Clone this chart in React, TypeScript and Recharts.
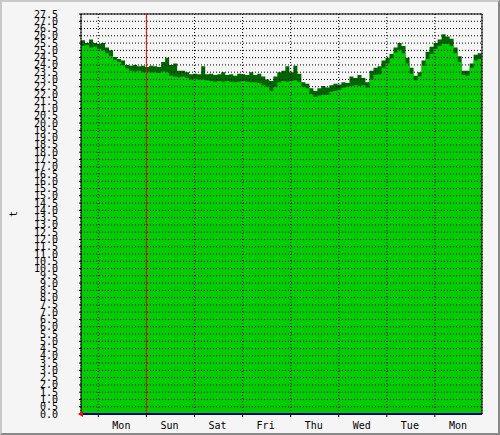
import {
  Area,
  AreaChart,
  CartesianGrid,
  ReferenceDot,
  ReferenceLine,
  XAxis,
  YAxis,
} from "recharts";

// sampled every 2 hours, starting a bit before the first day boundary
const START_DAY = -0.36;
const STEP_DAY = 1 / 12;
const X_DOMAIN: [number, number] = [-0.36, 7.98];

const dayLabels = ["Mon", "Sun", "Sat", "Fri", "Thu", "Wed", "Tue", "Mon"];
const dayBoundaries = [0, 1, 2, 3, 4, 5, 6, 7];
const dayLabelTicks = [0.48, 1.48, 2.48, 3.48, 4.48, 5.48, 6.48, 7.48];
const yTicks = Array.from({ length: 56 }, (_, i) => i * 0.5);

const avgTemp = [
  25.3, 25.35, 25.2, 25.25, 25.1, 25.0, 24.8, 24.6, 24.35, 24.2,
  24.0, 23.75, 23.6, 23.55, 23.6, 23.5, 23.55, 23.5, 23.5, 23.45,
  23.55, 23.5, 23.25, 23.2, 23.15, 23.2, 23.1, 23.0, 23.05, 23.0,
  23.0, 22.95, 22.9, 22.85, 22.9, 22.85, 22.9, 22.85, 22.8, 22.85,
  22.9, 22.85, 22.8, 22.8, 22.75, 22.6, 22.5, 22.2, 22.5, 22.8,
  22.9, 22.85, 22.9, 22.95, 22.8, 22.5, 22.4, 22.0, 21.8, 21.9,
  21.95, 21.95, 22.15, 22.2, 22.3, 22.45, 22.5, 22.55, 22.6, 22.55,
  22.6, 22.45, 23.0, 23.3, 23.35, 23.8, 24.1, 24.45, 24.85, 25.05,
  24.8, 24.1, 23.4, 22.95, 23.2, 23.95, 24.4, 24.75, 25.1, 25.3,
  25.45, 25.45, 25.3, 24.8, 24.2, 23.3, 23.25, 23.8, 24.3, 24.4,
  24.8,
];

const maxTemp = [
  25.7, 25.5, 25.75, 25.5, 25.45, 25.5, 25.2, 25.0, 24.55, 24.4,
  24.3, 24.0, 23.95, 24.0, 23.9, 23.95, 23.85, 23.95, 23.9, 23.85,
  24.2, 24.5, 24.0, 24.1, 23.6, 23.6, 23.5, 23.35, 23.4, 23.35,
  23.9, 23.35, 23.4, 23.3, 23.35, 23.5, 23.3, 23.35, 23.25, 23.4,
  23.35, 23.3, 23.5, 23.3, 23.4, 23.2, 23.0, 22.9, 23.2, 23.5,
  23.6, 23.9, 23.5, 23.95, 23.4, 22.8, 22.7, 22.4, 22.2, 22.4,
  22.55, 22.45, 22.6, 22.7, 22.65, 22.8, 22.75, 23.2, 23.1, 23.3,
  23.1, 22.8, 23.6, 23.8, 23.9, 24.3, 24.5, 24.75, 25.2, 25.5,
  25.3, 24.5, 23.8, 23.25, 23.5, 24.3, 24.9, 25.25, 25.5, 25.75,
  26.1, 25.95, 25.8, 25.2, 24.6, 23.6, 23.6, 24.1, 24.7, 24.8,
  25.2,
];

const data = avgTemp.map((avg, i) => ({
  t: START_DAY + i * STEP_DAY,
  avg,
  max: maxTemp[i],
}));

const FONT = "DejaVu Sans Mono";
const tickStyle = { fill: "#000", fontSize: 10, fontFamily: FONT };

const Arrow = (props: { cx?: number; cy?: number }) => {
  const { cx = 0, cy = 0 } = props;
  return <polygon points={`${cx - 3},${cy} ${cx + 2},${cy - 3} ${cx + 2},${cy + 3}`} fill="#ff0000" />;
};

export default function App() {
  return (
    <div style={{ position: "absolute", left: 0, top: 0, width: 500, height: 435, background: "#f5f5f5" }}>
      <AreaChart width={500} height={435} data={data} margin={{ top: 14, right: 0, bottom: 0, left: 0 }}>
        <XAxis
          dataKey="t"
          type="number"
          domain={X_DOMAIN}
          allowDataOverflow
          ticks={dayBoundaries}
          interval={0}
          height={3}
          tickSize={3}
          tickFormatter={() => ""}
          tickLine={{ stroke: "#000" }}
          axisLine={{ stroke: "#000080", strokeWidth: 2 }}
        />
        <XAxis
          xAxisId="labels"
          dataKey="t"
          type="number"
          domain={X_DOMAIN}
          allowDataOverflow
          ticks={dayLabelTicks}
          interval={0}
          height={18}
          tickSize={0}
          tickMargin={5}
          axisLine={false}
          tickLine={false}
          tick={tickStyle}
          tickFormatter={(_v, i) => dayLabels[i]}
        />
        <YAxis
          type="number"
          domain={[0, 27.5]}
          ticks={yTicks}
          interval={0}
          width={81}
          tickSize={2}
          tickMargin={21}
          tick={tickStyle}
          tickLine={{ stroke: "#000" }}
          axisLine={{ stroke: "#000" }}
          tickFormatter={(v) => Number(v).toFixed(1)}
          label={{ value: "t", angle: -90, position: "insideLeft", offset: 13, style: { fontFamily: FONT, fontSize: 10, fill: "#000", textAnchor: "middle" } }}
        />
        <YAxis
          yAxisId="right"
          orientation="right"
          type="number"
          domain={[0, 27.5]}
          ticks={yTicks}
          interval={0}
          width={18}
          tickSize={2}
          tickFormatter={() => ""}
          tickLine={{ stroke: "#000" }}
          axisLine={{ stroke: "#000" }}
        />
        <Area
          type="stepAfter"
          dataKey="max"
          stroke="none"
          fill="#006600"
          fillOpacity={1}
          isAnimationActive={false}
        />
        <Area
          type="stepAfter"
          dataKey="avg"
          stroke="none"
          fill="#00cc00"
          fillOpacity={1}
          isAnimationActive={false}
        />
        <CartesianGrid stroke="#000" strokeDasharray="1 2" zIndex={150} />
        <ReferenceLine y={27.5} stroke="#000" />
        <ReferenceLine x={1} stroke="#ff0000" />
        <ReferenceDot x={X_DOMAIN[0]} y={0} r={3} shape={Arrow} ifOverflow="visible" />
      </AreaChart>
      <div
        style={{
          position: "absolute",
          inset: 0,
          boxSizing: "border-box",
          borderTop: "2px solid #c8c8c8",
          borderLeft: "2px solid #c8c8c8",
          borderBottom: "2px solid #888",
          borderRight: "2px solid #888",
          pointerEvents: "none",
        }}
      />
    </div>
  );
}
